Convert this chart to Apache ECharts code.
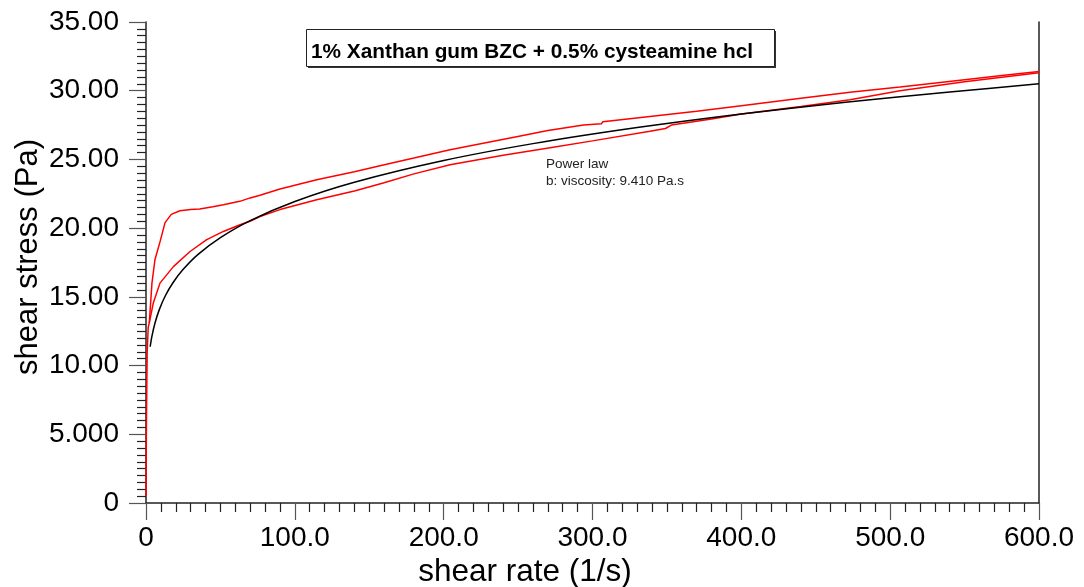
<!DOCTYPE html>
<html>
<head>
<meta charset="utf-8">
<title>Flow curve – 1% Xanthan gum BZC + 0.5% cysteamine hcl</title>
<script src="https://cdn.jsdelivr.net/npm/echarts/dist/echarts.min.js"></script>
<style>
  html, body { margin: 0; padding: 0; background: #fff; }
  #chart { width: 1084px; height: 587px; }
</style>
</head>
<body>
<div id="chart"></div>
<script>
// Up ramp (measured, red): shear rate (1/s) and shear stress (Pa)
const upRate   = [0, 0.3, 0.8, 1.5, 2.2, 4, 6, 9.4, 12.8, 17, 22.8, 30, 36, 45, 52, 63, 70, 76.6, 90, 114.7, 140, 159.4, 180, 204.3, 230, 249, 270, 294, 306, 307, 338.6, 370, 400, 440, 473, 506.6, 550, 575, 600];
const upStress = [0.5, 6, 11, 12.8, 13.1, 16.0, 17.7, 19.0, 20.4, 21.0, 21.27, 21.35, 21.4, 21.55, 21.7, 21.95, 22.2, 22.4, 22.85, 23.52, 24.1, 24.6, 25.1, 25.7, 26.25, 26.65, 27.1, 27.5, 27.6, 27.75, 28.13, 28.5, 28.9, 29.45, 29.88, 30.27, 30.8, 31.1, 31.4];

// Down ramp (measured, red)
const downRate   = [600, 550, 506.6, 473, 440, 400, 380, 353, 349, 338.6, 300, 271.5, 240, 204.3, 180, 159.4, 140, 114.7, 90, 76.6, 69.9, 63.2, 52, 40.8, 29.6, 18.4, 9.4, 4.9, 2.2];
const downStress = [31.3, 30.65, 30.0, 29.35, 28.85, 28.3, 27.95, 27.5, 27.25, 27.05, 26.35, 25.85, 25.3, 24.62, 23.95, 23.28, 22.7, 22.07, 21.35, 20.85, 20.5, 20.25, 19.76, 19.16, 18.3, 17.2, 16.0, 14.55, 13.1];

// Power law fit (black)
const fitRate   = [2.8, 4, 6, 9, 13, 18, 25, 35, 50, 70, 100, 140, 200, 260, 330, 400, 470, 540, 600];
const fitStress = [11.37, 12.14, 13.08, 14.09, 15.08, 16.01, 17.0, 18.09, 19.31, 20.55, 21.94, 23.34, 24.92, 26.15, 27.32, 28.31, 29.16, 29.91, 30.5];

// Axis tick labels
const xTickLabels = ['0', '100.0', '200.0', '300.0', '400.0', '500.0', '600.0'];
const yTickLabels = ['0', '5.000', '10.00', '15.00', '20.00', '25.00', '30.00', '35.00'];

const titleText = '1% Xanthan gum BZC + 0.5% cysteamine hcl';
const noteLines = ['Power law', 'b: viscosity: 9.410 Pa.s'];

const pairs = (xs, ys) => xs.map((x, i) => [x, ys[i]]);

const FONT = '"Liberation Sans", Arial, sans-serif';
const AXIS_COLOR = '#222';

const chart = echarts.init(document.getElementById('chart'), null, { renderer: 'canvas' });

chart.setOption({
  animation: false,
  backgroundColor: '#fff',
  grid: { left: 146, right: 45, top: 22, bottom: 84, outerBoundsMode: 'none' },
  xAxis: {
    type: 'value',
    min: 0, max: 600, interval: 100,
    axisLine: { show: true, onZero: false, lineStyle: { color: AXIS_COLOR, width: 1.5 } },
    axisTick: { show: true, inside: false, length: 17, lineStyle: { color: '#555', width: 1.2 } },
    minorTick: { show: true, splitNumber: 10, length: 9, lineStyle: { color: '#222', width: 1.2 } },
    splitLine: { show: false },
    axisLabel: {
      margin: 21, color: '#000', fontFamily: FONT, fontSize: 28,
      formatter: v => xTickLabels[Math.round(v / 100)]
    }
  },
  yAxis: [
    {
      type: 'value',
      min: 0, max: 35, interval: 5,
      axisLine: { show: true, onZero: false, lineStyle: { color: AXIS_COLOR, width: 1.5 } },
      axisTick: { show: true, inside: false, length: 17, lineStyle: { color: '#555', width: 1.2 } },
      minorTick: { show: true, splitNumber: 10, length: 9, lineStyle: { color: '#222', width: 1.2 } },
      splitLine: { show: false },
      axisLabel: {
        margin: 27, color: '#000', fontFamily: FONT, fontSize: 28,
        formatter: v => yTickLabels[Math.round(v / 5)]
      }
    },
    {
      type: 'value',
      position: 'right',
      min: 0, max: 35, interval: 5,
      axisLine: { show: true, onZero: false, lineStyle: { color: AXIS_COLOR, width: 1.5 } },
      axisTick: { show: false },
      axisLabel: { show: false },
      splitLine: { show: false }
    }
  ],
  series: [
    {
      name: 'up', type: 'line', showSymbol: false, symbol: 'none',
      data: pairs(upRate, upStress),
      lineStyle: { color: '#ff0000', width: 1.5 }
    },
    {
      name: 'down', type: 'line', showSymbol: false, symbol: 'none',
      data: pairs(downRate, downStress),
      lineStyle: { color: '#ff0000', width: 1.5 }
    },
    {
      name: 'Power law', type: 'line', showSymbol: false, symbol: 'none', smooth: 0.3,
      data: pairs(fitRate, fitStress),
      lineStyle: { color: '#000', width: 1.5 }
    }
  ],
  graphic: [
    // boxed title with drop shadow
    { type: 'rect', left: 308, top: 31, shape: { width: 468, height: 37 }, style: { fill: '#333' }, silent: true },
    { type: 'rect', left: 306, top: 29, shape: { width: 468, height: 37 }, style: { fill: '#fff', stroke: '#222', lineWidth: 1 }, silent: true },
    {
      type: 'text', left: 311, top: 42,
      style: { text: titleText, font: 'bold 20.8px ' + FONT, fill: '#000' }
    },
    // fit annotation
    {
      type: 'text', left: 546, top: 157,
      style: { text: noteLines[0], font: '13.5px ' + FONT, fill: '#222' }
    },
    {
      type: 'text', left: 546, top: 174,
      style: { text: noteLines[1], font: '13.5px ' + FONT, fill: '#222' }
    },
    // axis names
    {
      type: 'text', x: 525, y: 572,
      style: { text: 'shear rate (1/s)', font: '31.5px ' + FONT, fill: '#000', align: 'center', verticalAlign: 'middle' }
    },
    {
      type: 'text', x: 28, y: 257, rotation: Math.PI / 2,
      style: { text: 'shear stress (Pa)', font: '31px ' + FONT, fill: '#000', align: 'center', verticalAlign: 'middle' }
    }
  ]
});
</script>
</body>
</html>
